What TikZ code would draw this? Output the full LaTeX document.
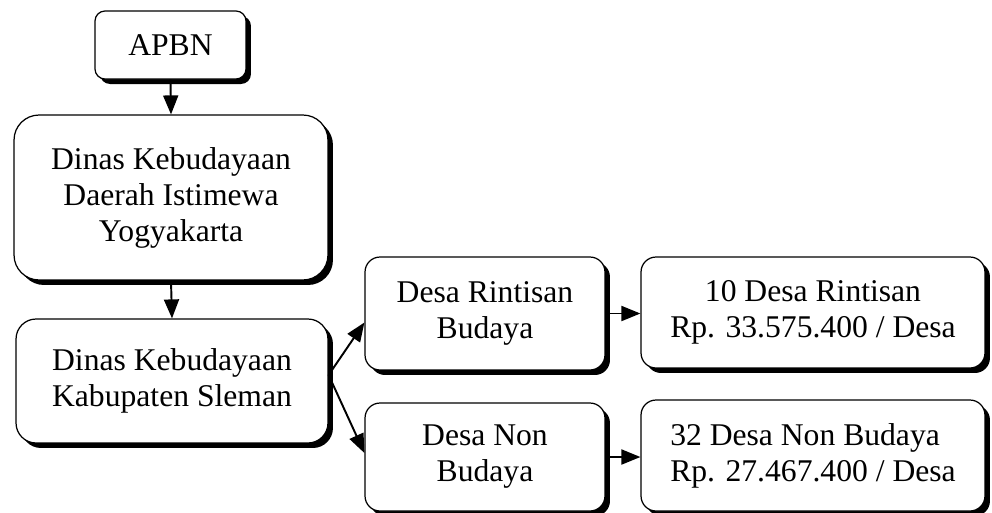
\documentclass[tikz,border=0pt]{standalone}
\usepackage{fontspec}
\setmainfont{Liberation Serif}
\usetikzlibrary{shadows,arrows.meta}

\begin{document}
\begin{tikzpicture}[x=0.02cm,y=-0.02cm]
		\tikzstyle{every node}+=[inner sep=0pt]
		\tikzstyle{kotak}=[draw=black, line width=0.7pt, fill=white, rounded corners=0.3cm, align=center, font=\fontsize{18}{20.5}\selectfont, drop shadow={shadow xshift=0.1cm, shadow yshift=-0.1cm, fill=black, opacity=1}]
		\tikzstyle{panah}=[line width=1.1pt, -{Triangle[length=0.38cm,width=0.3cm]}]
		\useasboundingbox (0,0) rectangle (992,512);
		\node [kotak, rounded corners=0.2cm, minimum width=3.02cm, minimum height=1.36cm] (apbn) at (170.5,45) {APBN};
		\node [kotak, rounded corners=0.5cm, minimum width=6.28cm, minimum height=3.3cm] (diy) at (171,197.5) {Dinas Kebudayaan\\Daerah Istimewa\\Yogyakarta};
		\node [kotak, rounded corners=0.4cm, minimum width=6.24cm, minimum height=2.48cm] (sleman) at (172,381) {Dinas Kebudayaan\\Kabupaten Sleman};
		\node [kotak, minimum width=4.8cm, minimum height=2.26cm] (rintis) at (485,313.5) {Desa Rintisan\\Budaya};
		\node [kotak, minimum width=4.8cm, minimum height=2.16cm] (nonbud) at (485,457) {Desa Non\\Budaya};
		\node [kotak, minimum width=6.88cm, minimum height=2.22cm] (rintisdana) at (813,312.5) {10 Desa Rintisan\\Rp. 33.575.400 / Desa};
		\node [kotak, align=left, minimum width=6.88cm, minimum height=2.22cm] (nondana) at (813,455.5) {32 Desa Non Budaya\\Rp. 27.467.400 / Desa};
		\draw [panah] (apbn.south) -- (diy.north);
		\draw [panah] (diy.south) -- (sleman.north);
		\draw [panah] ([yshift=0.12cm]sleman.east) -- ([yshift=-0.18cm]rintis.west);
		\draw [panah] ([yshift=0.12cm]sleman.east) -- ([yshift=0.08cm]nonbud.west);
		\draw [panah] (rintis.east) -- (rintis.east -| rintisdana.west);
		\draw [panah] (nonbud.east) -- (nonbud.east -| nondana.west);
\end{tikzpicture}
\end{document}
